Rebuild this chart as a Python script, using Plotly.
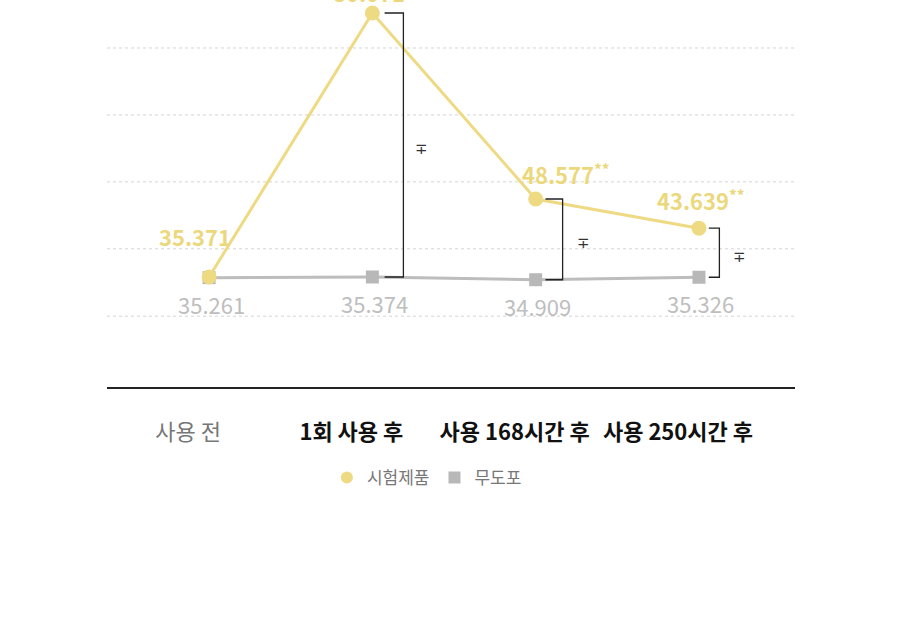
import plotly.graph_objects as go

categories = ["사용 전", "1회 사용 후", "사용 168시간 후", "사용 250시간 후"]
test_values = [35.371, 80.071, 48.577, 43.639]
test_marks = ["", "", "**", "**"]
ctrl_values = [35.261, 35.374, 34.909, 35.326]
series_names = ["시험제품", "무도포"]
diff_symbol = "∓"

YELLOW = "#EFDA84"
YELLOW_TXT = "#ECD87C"
GRAY = "#BDBDBD"
GRAY_TXT = "#BEBEBE"
FONT = "Noto Sans CJK KR"

xs = list(range(len(categories)))

fig = go.Figure()
fig.add_trace(go.Scatter(x=xs, y=ctrl_values, mode="lines+markers",
                         line=dict(color=GRAY, width=3),
                         marker=dict(symbol="square", size=13, color="#B8B8B8"),
                         showlegend=False, hoverinfo="skip"))
fig.add_trace(go.Scatter(x=xs, y=test_values, mode="lines+markers",
                         line=dict(color=YELLOW, width=3),
                         marker=dict(symbol="circle", size=15, color=YELLOW),
                         showlegend=False, hoverinfo="skip", cliponaxis=False))
# legend-only traces
fig.add_trace(go.Scatter(x=[None], y=[None], mode="markers", name=series_names[0],
                         marker=dict(symbol="circle", size=13, color=YELLOW)))
fig.add_trace(go.Scatter(x=[None], y=[None], mode="markers", name=series_names[1],
                         marker=dict(symbol="square", size=11, color="#B8B8B8")))

annotations = []
test_shift = [(-14, 41), (-3, 21), (30, 26), (2, 29)]
for i, (v, m) in enumerate(zip(test_values, test_marks)):
    txt = f"{v:.3f}" + (f"<sup>{m}</sup>" if m else "")
    dx, dy = test_shift[i]
    annotations.append(dict(x=xs[i], y=v, text=txt, showarrow=False,
                             xshift=dx, yshift=dy,
                             font=dict(family=FONT, size=22, color=YELLOW_TXT, weight=600)))
for i, v in enumerate(ctrl_values):
    annotations.append(dict(x=xs[i], y=v, text=f"{v:.3f}", showarrow=False,
                            xshift=2, yshift=-26,
                            font=dict(family=FONT, size=22, color=GRAY_TXT)))

shapes = []
# brackets between test and control for post-use points
br = {1: (0.075, 0.19, 0.30), 2: (0.06, 0.165, 0.29), 3: (0.06, 0.125, 0.25)}
for i, (a, b, s) in br.items():
    t, c = test_values[i], ctrl_values[i]
    shapes.append(dict(type="path", xref="x", yref="y",
                       path=f"M {xs[i]+a} {t} L {xs[i]+b} {t} L {xs[i]+b} {c} L {xs[i]+a} {c}",
                       line=dict(color="#222222", width=1.3)))
    annotations.append(dict(x=xs[i] + s, y=(t + c) / 2, text=diff_symbol, showarrow=False,
                            yshift=-4, font=dict(family="DejaVu Sans", size=15, color="#333333")))

# dashed background guides
for f in [0.876, 0.703, 0.530, 0.357, 0.183]:
    shapes.append(dict(type="line", xref="paper", yref="paper", x0=0, x1=1, y0=f, y1=f,
                       line=dict(color="#D4D4D4", width=1, dash="3px,3px"), layer="below"))

ticktext = []
for i, c in enumerate(categories):
    if i == 0:
        ticktext.append(f"<span style='color:#777777'>{c}</span>")
    else:
        ticktext.append(f"<b>{c}</b>")

fig.update_layout(
    width=900, height=642,
    margin=dict(l=107, r=105, t=0, b=255),
    paper_bgcolor="white", plot_bgcolor="white",
    font=dict(family=FONT),
    xaxis=dict(range=[-0.625, 3.588], tickvals=xs, ticktext=ticktext,
               showgrid=False, zeroline=False, showline=True, linecolor="#222222", linewidth=2,
               ticks="outside", ticklen=25, tickcolor="rgba(0,0,0,0)", ticklabelshift=-21,
               tickfont=dict(family=FONT, size=22, color="#111111")),
    yaxis=dict(range=[16.746, 82.27], visible=False, showgrid=False, zeroline=False),
    showlegend=True,
    legend=dict(orientation="h", x=0.465, xanchor="center", y=-0.235, yanchor="middle",
                font=dict(family=FONT, size=17, color="#777777"),
                itemsizing="constant", itemwidth=30, bgcolor="rgba(0,0,0,0)"),
    annotations=annotations, shapes=shapes,
)

fig.write_html("out.html")
